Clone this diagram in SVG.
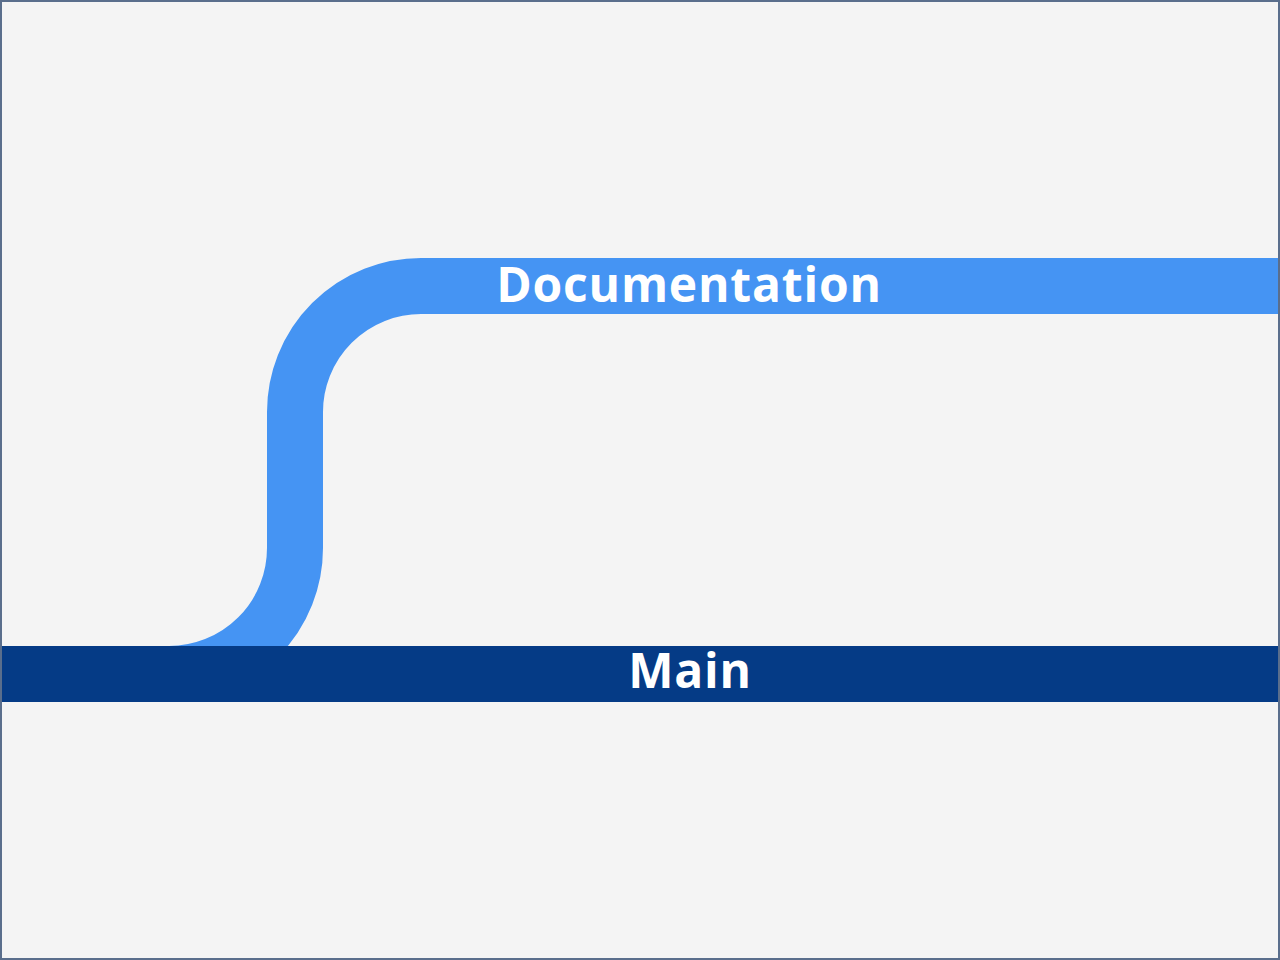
<svg xmlns="http://www.w3.org/2000/svg" width="1280" height="960" viewBox="0 0 1280 960">
  <style>
    .label { font-family: "Open Sans", "Lato", "Liberation Sans", sans-serif; font-weight: 700; font-size: 48px; letter-spacing: 0.8px; fill: #ffffff; text-anchor: middle; }
    .track { fill: none; stroke-width: 56; stroke-linecap: butt; }
  </style>
  <rect x="1" y="1" width="1278" height="958" fill="#f4f4f4" stroke="#5a6e8c" stroke-width="2"/>
  <g id="connectors">
    <path class="track" stroke="#4594f3" d="M 169 674 A 126 126 0 0 0 295 548 L 295 412 A 126 126 0 0 1 421 286 L 1278 286"/>
  </g>
  <g id="main">
    <rect x="2" y="646" width="1276" height="56" fill="#053b86"/>
    <text class="label" x="690" y="688">Main</text>
  </g>
  <g id="documentation">
    <text class="label" x="689" y="302">Documentation</text>
  </g>
</svg>
